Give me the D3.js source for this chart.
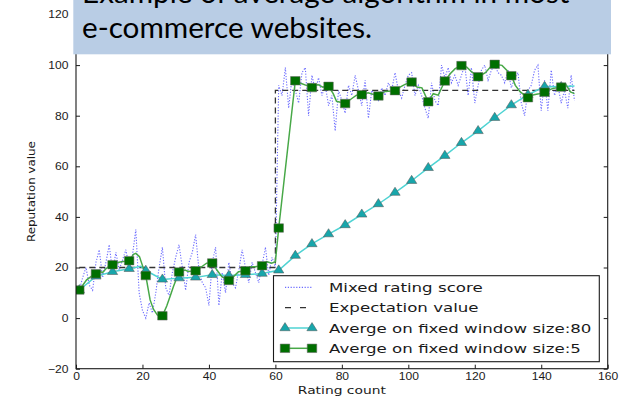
<!DOCTYPE html>
<html><head><meta charset="utf-8">
<script src="https://cdn.jsdelivr.net/npm/d3@7"></script>
<style>body{margin:0;background:#fff} svg{display:block}</style>
</head><body>
<svg id="chart" width="625" height="398"></svg>
<script>
// ---- data ----
// Mixed rating score, one value per rating (rating 1..150)
const mixedScore = [
  11,16,20,13,11,22,27,16,22,29, 18,26,19,23,27,20,25,35,10,3,
  0,6,2,10,20,28,12,9,18,24, 29,20,11,22,26,33,19,14,12,5,
  22,28,5,18,10,22,14,12,19,27, 20,14,22,18,14,21,28,17,24,20,
  92,88,99,83,95,90,85,97,99,80, 96,90,95,88,92,84,88,74,90,86,
  81,92,88,96,90,84,94,79,90,88, 86,91,88,93,90,97,90,87,92,96,
  97,88,92,88,83,79,93,86,84,100, 95,99,93,96,92,96,100,88,99,85,
  92,98,100,94,98,100,97,96,93,98, 91,95,97,85,80,90,92,98,100,82,
  94,82,98,88,92,85,90,83,96,86
];
// Expectation value
const expectX = [1, 60, 60, 150];
const expectY = [20, 20, 90, 90];
// Average on fixed window size 80
const avg80X = [1,6,11,16,19.5,21,26,31,36,41,46,51,56,61,66,71,76,81,86,91,96,101,106,111,116,121,126,131,136,141,146,150];
const avg80Y = [11.1,16.5,18.3,19.5,20.5,18.8,15.3,15.8,16.1,17.1,16.8,17.1,17.6,18.9,24.7,29.3,33.2,36.8,41.0,45.1,49.6,54.3,59.4,64.2,69.3,74.0,79.2,84.2,88.3,91.5,91.4,91.7];
// Average on fixed window size 5
const avg5X = [1,3.2,4.7,6,7,8,9,10,11,12.2,13.7,16,17.3,18,19.1,21,22.3,23.3,24.5,26,27.3,28.3,29.3,31,32.8,33.8,36,37.8,39.3,41,42.4,43.9,46,47.4,48.9,51,52.4,53.9,56,57.4,58.9,60,61,66,67.8,69.3,71,72.8,74.3,76,77.4,78.4,81,82.9,84.4,86,87.9,91,93,96,97.5,99,101,102.6,104.1,106,107.5,109,111,112.6,114.1,116,117.6,119.1,121,123.2,124.7,126,128.2,129.7,131,132.2,133.7,136,137.8,139.3,141,143.3,146,147.3,148.8,150];
const avg5Y = [11.1,15.1,16.6,17.5,18.5,18.0,19.5,20.5,21.1,21.9,22.3,22.7,25.2,25.6,24.3,16.8,7.2,3.5,1.2,0.9,4.8,8.5,12.4,18.2,19.0,18.4,18.7,20.3,21.7,21.8,19.0,16.4,14.9,16.4,18.3,18.7,20.3,20.3,20.7,22.3,21.7,22.3,35.6,93.8,92.7,92.0,91.1,92.3,91.3,91.6,88.7,85.7,84.8,86.7,88.1,88.3,89.1,87.8,89.6,89.9,91.3,92.4,93.3,91.3,91.0,85.5,88.7,88.1,93.7,96.6,98.6,99.8,99.2,97.3,95.4,97.0,99.2,100.3,99.9,97.9,95.8,92.0,89.4,87.1,88.3,88.7,89.3,90.7,91.3,92.6,89.4,88.7];

const xTicks = [0,20,40,60,80,100,120,140,160];
const yTicks = [-20,0,20,40,60,80,100,120];
const legendLabels = ["Mixed rating score","Expectation value","Averge on fixed window size:80","Averge on fixed window size:5"];
const bannerLines = ["Example of average algorithm in most","e-commerce websites."];

// ---- layout ----
const svg = d3.select("#chart");
const L = 76, R = 607.7, T = 14.5, B = 368.7;
const x = d3.scaleLinear().domain([0,160]).range([L,R]);
const y = d3.scaleLinear().domain([-20,120]).range([B,T]);
const tickFont = "'DejaVu Sans', sans-serif";
const ink = "#1a1a1a";

function stretch(sel, k){
  sel.each(function(){
    const w = this.getComputedTextLength();
    this.setAttribute("textLength", w*k);
    this.setAttribute("lengthAdjust","spacingAndGlyphs");
  });
}

svg.append("defs").append("clipPath").attr("id","plotclip")
  .append("rect").attr("x",L).attr("y",T).attr("width",R-L).attr("height",B-T);

// ---- series ----
const plot = svg.append("g").attr("clip-path","url(#plotclip)");
const line = d3.line().x(d=>x(d[0])).y(d=>y(d[1]));

const dotBlue = "#4646ff";
const mixedPts = mixedScore.map((v,i)=>[i+1,v]);
plot.append("path").attr("d", line(mixedPts))
  .attr("fill","none").attr("stroke",dotBlue).attr("stroke-opacity",0.8)
  .attr("stroke-width",1.1).attr("stroke-dasharray","1.2,1.6");

plot.append("path").attr("d", line(expectX.map((v,i)=>[v,expectY[i]])))
  .attr("fill","none").attr("stroke","#333").attr("stroke-width",1.3)
  .attr("stroke-dasharray","6,4");

const cyanLine = "#4fd3d3", cyanFill = "#17a6ab";
const greenLine = "#47a847", greenFill = "#006f00";
const triPath = d3.symbol(d3.symbolTriangle).size(38)();
const sqPath = d3.symbol(d3.symbolSquare).size(72)();

const a80 = avg80X.map((v,i)=>[v,avg80Y[i]]);
plot.append("path").attr("d", line(a80))
  .attr("fill","none").attr("stroke",cyanLine).attr("stroke-width",1.5);

const a5 = avg5X.map((v,i)=>[v,avg5Y[i]]);
plot.append("path").attr("d", line(a5))
  .attr("fill","none").attr("stroke",greenLine).attr("stroke-width",1.5);

plot.selectAll(".tri").data(a80.filter(d=>Number.isInteger(d[0]) && d[0]%5===1))
  .join("path").attr("class","tri").attr("d",triPath)
  .attr("transform",d=>`translate(${x(d[0])},${y(d[1])}) scale(1.1,1)`)
  .attr("fill",cyanFill).attr("stroke","#555").attr("stroke-width",0.5);

plot.selectAll(".sq").data(a5.filter(d=>Number.isInteger(d[0]) && d[0]%5===1))
  .join("path").attr("class","sq").attr("d",sqPath)
  .attr("transform",d=>`translate(${x(d[0])},${y(d[1])}) scale(1.12,1)`)
  .attr("fill",greenFill).attr("stroke","#666").attr("stroke-width",0.5);

// ---- axes ----
const ax = svg.append("g").attr("font-family",tickFont);
ax.append("g").attr("transform",`translate(0,${B})`)
  .call(d3.axisBottom(x).tickValues(xTicks).tickSize(-4).tickPadding(4));
ax.append("g").attr("transform",`translate(${L},0)`)
  .call(d3.axisLeft(y).tickValues(yTicks).tickSize(-4).tickPadding(7.5));
ax.append("g").attr("transform",`translate(${R},0)`)
  .call(d3.axisRight(y).tickValues(yTicks).tickSize(-4).tickFormat(""));
ax.append("g").attr("transform",`translate(0,${T})`)
  .call(d3.axisTop(x).tickValues(xTicks).tickSize(-4).tickFormat(""));
ax.selectAll(".domain").remove();
ax.selectAll(".tick line").attr("stroke",ink).attr("stroke-width",1);
ax.selectAll(".tick text").attr("fill",ink).attr("font-size",10.8);
stretch(ax.selectAll(".tick text"), 1.12);

svg.append("rect").attr("x",L).attr("y",T).attr("width",R-L).attr("height",B-T)
  .attr("fill","none").attr("stroke",ink).attr("stroke-width",1.1);

svg.append("text").attr("x",(L+R)/2).attr("y",394).attr("text-anchor","middle")
  .attr("font-family",tickFont).attr("font-size",10.5).attr("fill",ink).text("Rating count")
  .attr("textLength",88).attr("lengthAdjust","spacingAndGlyphs");
svg.append("text").attr("transform",`translate(34.5,${(T+B)/2}) rotate(-90)`)
  .attr("text-anchor","middle").attr("font-family",tickFont).attr("font-size",10.5)
  .attr("fill",ink).text("Reputation value")
  .attr("textLength",101).attr("lengthAdjust","spacingAndGlyphs");

// ---- legend ----
const lg = svg.append("g");
lg.append("rect").attr("x",273.5).attr("y",275.7).attr("width",325.8).attr("height",86)
  .attr("fill","#fff").attr("stroke",ink).attr("stroke-width",1.1);
const rowY = [287.4,307.7,328.0,348.3];
const s0 = 285, s1 = 312;
lg.append("line").attr("x1",s0).attr("x2",s1).attr("y1",rowY[0]).attr("y2",rowY[0])
  .attr("stroke",dotBlue).attr("stroke-opacity",0.8).attr("stroke-width",1.1).attr("stroke-dasharray","1.2,1.6");
lg.append("line").attr("x1",s0).attr("x2",s1).attr("y1",rowY[1]).attr("y2",rowY[1])
  .attr("stroke","#333").attr("stroke-width",1.3).attr("stroke-dasharray","6,9");
lg.append("line").attr("x1",s0).attr("x2",s1).attr("y1",rowY[2]).attr("y2",rowY[2])
  .attr("stroke",cyanLine).attr("stroke-width",1.5);
lg.append("line").attr("x1",s0).attr("x2",s1).attr("y1",rowY[3]).attr("y2",rowY[3])
  .attr("stroke",greenLine).attr("stroke-width",1.5);
[s0,s1].forEach(sx=>{
  lg.append("path").attr("d",triPath).attr("transform",`translate(${sx},${rowY[2]}) scale(1.1,1)`)
    .attr("fill",cyanFill).attr("stroke","#555").attr("stroke-width",0.5);
  lg.append("path").attr("d",sqPath).attr("transform",`translate(${sx},${rowY[3]}) scale(1.12,1)`)
    .attr("fill",greenFill).attr("stroke","#666").attr("stroke-width",0.5);
});
const lt = lg.selectAll(".lt").data(legendLabels).join("text").attr("class","lt")
  .attr("x",329).attr("y",(d,i)=>rowY[i]).attr("dy","0.36em")
  .attr("font-family",tickFont).attr("font-size",12.8).attr("fill",ink).text(d=>d);
stretch(lt, 1.3);

// ---- banner ----
const bn = svg.append("g");
bn.append("rect").attr("x",73.3).attr("y",-2).attr("width",537.7).attr("height",56.3)
  .attr("fill","#b9cde5");
const bt = bn.selectAll(".bt").data(bannerLines).join("text").attr("class","bt")
  .attr("x",82).attr("y",(d,i)=>3 + i*35.3)
  .attr("font-family","Lato, 'Open Sans', sans-serif").attr("font-size",29.5)
  .attr("fill","#000").text(d=>d);
// widen both lines by the factor that sets the second line to its width
const w2 = bt.nodes()[1].getComputedTextLength();
stretch(bt, 290/w2);
</script></body></html>
